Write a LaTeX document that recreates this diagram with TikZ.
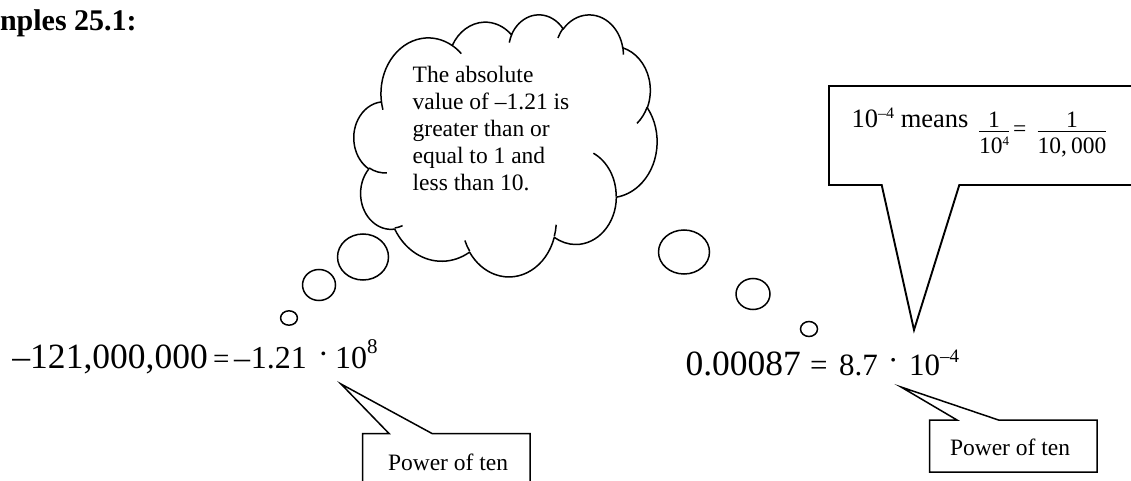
\documentclass[tikz,border=0pt]{standalone}
\usepackage{fontspec}
\setmainfont{Liberation Serif}
\makeatletter
\pgfmathdeclarefunction{vis}{3}{%
  \begingroup
    \pgfmathparse{atan2((#1)*sin(#3),(#2)*cos(#3))}%
    \pgfmath@smuggleone\pgfmathresult
  \endgroup}
\makeatother
\tikzset{
  varc/.style n args={4}{start angle={vis(#1,#2,#3)},
     end angle={vis(#1,#2,#3)+Mod(vis(#1,#2,#3+#4)-vis(#1,#2,#3),360)},
     x radius=#1, y radius=#2},
  outline/.style={draw=black, line width=1.5pt, line join=miter},
  txt/.style={inner sep=0pt, outer sep=0pt, anchor=base west},
  bigfont/.style={font=\fontsize{35.5}{40}\selectfont},
  leftfont/.style={font=\fontsize{32}{36}\selectfont},
  smallfont/.style={font=\fontsize{31}{34}\selectfont},
  eqfont/.style={font=\fontsize{29}{33}\selectfont},
  boxfont/.style={font=\fontsize{23.5}{27}\selectfont},
  meanfont/.style={font=\fontsize{26.5}{30}\selectfont},
}
\begin{document}
\begin{tikzpicture}[x=1pt,y=-1pt]
\useasboundingbox (0,0) rectangle (1131,481);
\clip (0,0) rectangle (1131,481);

% title
\node[txt, font=\fontsize{30}{36}\selectfont\bfseries] (title) at (0,31) {nples 25.1:};

% cloud
\begin{scope}[shift={(354pt,-14pt)}, x=0.70139pt, y=-0.60648pt]
\draw[outline, line join=round] (39.00,143.70)
  arc[varc={67.53}{91.90}{-190.48748}{123.78053}]
  arc[varc={53.33}{72.67}{-144.10238}{89.94523}]
  arc[varc={43.65}{59.45}{-145.80792}{99.72302}]
  arc[varc={48.57}{65.95}{-130.98607}{117.24173}]
  arc[varc={53.33}{72.73}{-78.70888}{109.02692}]
  arc[varc={67.75}{92.20}{-46.26725}{130.269}]
  arc[varc={57.85}{78.67}{0.62502}{114.03333}]
  arc[varc={67.52}{92.15}{22.4516}{115.17255}]
  arc[varc={77.20}{105.43}{66.24263}{75.71102}]
  arc[varc={43.60}{59.18}{-274.94208}{146.73557}]
  arc[varc={43.45}{59.45}{-246.8285}{152.51885}]
  -- cycle;
\draw[outline] (46.93,261.77) arc[varc={43.45}{59.45}{86.742}{26.4295}];
\draw[outline] (69.28,348.99) arc[varc={43.60}{59.18}{73.61047}{11.44747}];
\draw[outline] (164.78,390.90) arc[varc={67.52}{92.15}{137.62415}{14.0811}];
\draw[outline] (288.27,347.51) arc[varc={67.52}{92.15}{6.45327}{15.99835}];
\draw[outline] (341.29,229.54) arc[varc={57.85}{78.67}{-70.29235}{70.91737}];
\draw[outline] (417.98,153.54) arc[varc={53.33}{72.73}{30.31803}{27.7515}];
\draw[outline] (383.24,54.26) arc[varc={48.57}{65.95}{-13.74433}{14.8589}];
\draw[outline] (290.78,39.52) arc[varc={48.57}{65.95}{-149.18145}{18.19537}];
\draw[outline] (221.41,47.20) arc[varc={43.65}{59.45}{-163.49427}{17.68635}];
\draw[outline] (140.00,51.92) arc[varc={67.53}{91.90}{-66.70695}{12.31935}];
\draw[outline] (41.27,157.89) arc[varc={67.53}{91.90}{157.65435}{11.85817}];
\end{scope}
\node[inner sep=0pt, anchor=north west, align=left, boxfont] (cloudtxt) at (412.5,65.6)
  {The absolute\\value of –1.21 is\\greater than or\\equal to 1 and\\less than 10.};

% thought bubbles, left
\draw[outline] (363,257) ellipse [x radius=25.5, y radius=23];
\draw[outline] (319,285) ellipse [x radius=16.5, y radius=15.5];
\draw[outline] (289,318) ellipse [x radius=8.4, y radius=7.2];
% thought bubbles, right
\draw[outline] (684,252) ellipse [x radius=25.5, y radius=22];
\draw[outline] (753,294) ellipse [x radius=17, y radius=15.5];
\draw[outline] (809,329) ellipse [x radius=8.5, y radius=7.5];

% top right callout
\coordinate (tA) at (829,86);
\coordinate (tB) at (1140,86);
\coordinate (tC) at (1140,185);
\coordinate (tD) at (959.3,185);
\coordinate (tE) at (914,330);
\coordinate (tF) at (881.7,185);
\coordinate (tG) at (829,185);
\draw[outline, line width=1.9pt] (tA) -- (tB) -- (tC) -- (tD) -- (tE) -- (tF) -- (tG) -- cycle;
\node[txt, meanfont] (meaning) at (851.7,127.5)
  {10\raisebox{9pt}{\fontsize{16}{17}\selectfont –4} means};
\node[txt, boxfont] (fracs) at (977.8,137)
  {$\frac{\mbox{1}}{\rule{0pt}{22pt}\mbox{10\raisebox{8pt}{\fontsize{13}{14}\selectfont 4}}}\mbox{\hspace{3pt}=\hspace{10pt}}\frac{\mbox{1}}{\rule{0pt}{22pt}\mbox{10,\hspace{4pt}000}}$};

% left equation
\node[txt, bigfont] (numA) at (12.5,368) {–121,000,000};
\node[txt, eqfont] (eqA) at (213,368) {=};
\node[txt, leftfont] (mantA) at (234,368) {–\hspace{1pt}1.21};
\node[txt, leftfont] (dotA) at (318,364) {·};
\node[txt, leftfont] (powA) at (335,368) {10\raisebox{15pt}{\fontsize{21}{22}\selectfont 8}};

% right equation
\node[txt, bigfont] (numB) at (685.6,375) {0.00087};
\node[txt, smallfont] (eqB) at (810,375) {=};
\node[txt, smallfont] (mantB) at (839,375) {8.7};
\node[txt, smallfont] (dotB) at (888,370) {·};
\node[txt, smallfont] (powB) at (909,375) {10\raisebox{13pt}{\fontsize{19}{20}\selectfont –4}};

% left "Power of ten" callout
\coordinate (lA) at (362.5,500);
\coordinate (lB) at (362.5,433.5);
\coordinate (lC) at (389,433.5);
\coordinate (lD) at (341,384);
\coordinate (lE) at (432,433.5);
\coordinate (lF) at (530,433.5);
\coordinate (lG) at (530,500);
\draw[outline] (lA) -- (lB) -- (lC) -- (lD) -- (lE) -- (lF) -- (lG);
\node[txt, boxfont] (powtxtA) at (388,470) {Power of ten};

% right "Power of ten" callout
\coordinate (rA) at (929.5,420);
\coordinate (rB) at (957,420);
\coordinate (rC) at (901,387);
\coordinate (rD) at (998.5,420);
\coordinate (rE) at (1097,420);
\coordinate (rF) at (1097,472);
\coordinate (rG) at (929.5,472);
\draw[outline] (rA) -- (rB) -- (rC) -- (rD) -- (rE) -- (rF) -- (rG) -- cycle;
\node[txt, boxfont] (powtxtB) at (950,455) {Power of ten};
\end{tikzpicture}
\end{document}
